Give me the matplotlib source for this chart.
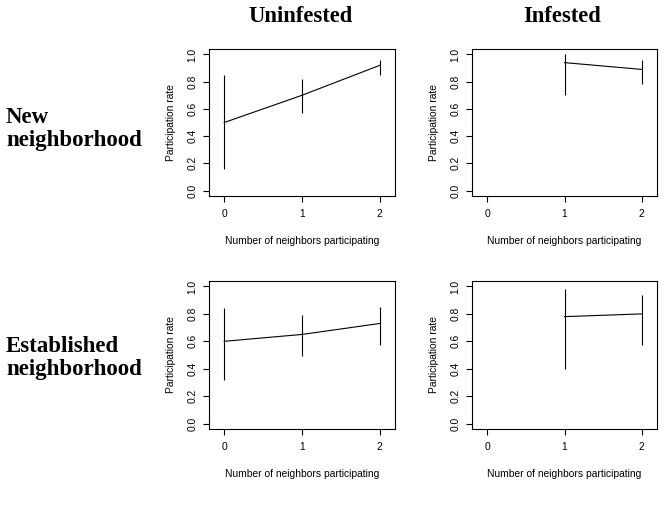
import numpy as np
import matplotlib
matplotlib.use("Agg")
import matplotlib.pyplot as plt

# neighbors participating (x) and participation rate with interval per panel
x_uninf = [0, 1, 2]
x_inf = [1, 2]

new_uninf = [0.50, 0.70, 0.92]
new_uninf_lo = [0.16, 0.57, 0.85]
new_uninf_hi = [0.85, 0.82, 0.96]

new_inf = [0.94, 0.89]
new_inf_lo = [0.70, 0.78]
new_inf_hi = [1.00, 0.96]

est_uninf = [0.60, 0.65, 0.73]
est_uninf_lo = [0.32, 0.49, 0.57]
est_uninf_hi = [0.84, 0.79, 0.85]

est_inf = [0.78, 0.80]
est_inf_lo = [0.40, 0.57]
est_inf_hi = [0.98, 0.94]

col_titles = ["Uninfested", "Infested"]
row_titles = ["New\nneighborhood", "Established\nneighborhood"]

W, H = 665, 515
fig = plt.figure(figsize=(W / 100, H / 100), dpi=100)

def box(l, t, r, b):
    return [l / W, 1 - b / H, (r - l) / W, (b - t) / H]

panels = [
    (box(209, 49, 395, 196), x_uninf, new_uninf, new_uninf_lo, new_uninf_hi),
    (box(472, 49, 657, 196), x_inf, new_inf, new_inf_lo, new_inf_hi),
    (box(209, 281, 395, 429), x_uninf, est_uninf, est_uninf_lo, est_uninf_hi),
    (box(472, 281, 657, 429), x_inf, est_inf, est_inf_lo, est_inf_hi),
]

sans = "Liberation Sans"
for pos, xs, ys, lo, hi in panels:
    ax = fig.add_axes(pos)
    ax.plot(xs, ys, color="black", lw=0.8)
    ax.vlines(xs, lo, hi, color="black", lw=0.8)
    ax.set_xlim(-0.196, 2.196)
    ax.set_ylim(-0.04, 1.04)
    ax.set_xticks([0, 1, 2])
    ax.set_yticks([0, 0.2, 0.4, 0.6, 0.8, 1.0])
    ax.set_yticklabels(["0.0", "0.2", "0.4", "0.6", "0.8", "1.0"], rotation=90, va="center")
    ax.tick_params(direction="out", length=4.5, width=0.8, labelsize=7.4)
    ax.tick_params(axis="x", pad=5)
    ax.tick_params(axis="y", pad=4)
    for lab in ax.get_xticklabels() + ax.get_yticklabels():
        lab.set_family(sans)
    for s in ax.spines.values():
        s.set_linewidth(0.8)
    ax.set_xlabel("Number of neighbors participating", fontsize=7.4, family=sans, labelpad=12)
    ax.set_ylabel("Participation rate", fontsize=7.4, family=sans, labelpad=8)

serif = "Liberation Serif"
fig.text(301 / W, 1 - 17 / H, col_titles[0], ha="center", va="center",
         fontsize=16.3, fontweight="bold", family=serif)
fig.text(562 / W, 1 - 17 / H, col_titles[1], ha="center", va="center",
         fontsize=16.3, fontweight="bold", family=serif)
fig.text(6 / W, 1 - 129 / H, row_titles[0], ha="left", va="center",
         fontsize=16.5, fontweight="bold", family=serif, linespacing=1.08)
fig.text(6 / W, 1 - 358 / H, row_titles[1], ha="left", va="center",
         fontsize=16.5, fontweight="bold", family=serif, linespacing=1.08)

fig.savefig("out.png", dpi=100)
